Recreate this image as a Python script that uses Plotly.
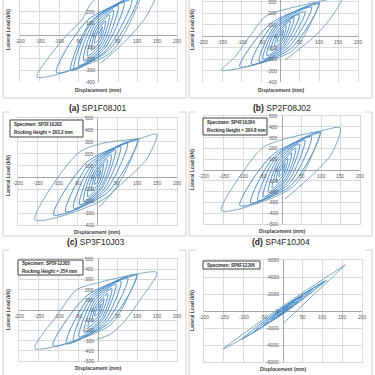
import plotly.graph_objects as go

# ---------------- data ----------------
# each panel: continuous load path (inner cycles) + last large cycle (outer)
a_in_x = [0, 10, 3, -10, -3, 18, 5, -18, -5, 28, 7, -28, -7, 38, 10, -38, -10, 50, 13, -50, -13, 65, 16, -62, -16, 85, 21, -70, -18, 100, 25, -107, -27, 110]
a_in_y = [0, 70, -28, -70, 28, 120, -48, -130, 50, 170, -68, -180, 70, 210, -84, -220, 86, 250, -100, -260, 104, 280, -112, -290, 116, 310, -124, -300, 120, 330, -132, -320, 128, 335]
a_out_x = [110, 30, -157, -107, -77, -44, -10, 100, 150, 120, 60, 5]
a_out_y = [335, -150, -357, -105, 13, 122, 300, 360, 390, 150, -80, -240]

b_in_x = [0, 8, 2, -8, -2, 15, 4, -15, -4, 25, 6, -25, -6, 35, 9, -35, -9, 48, 12, -45, -11, 63, 16, -55, -14, 80, 20, -75, -19, 98, 25, -105, -26, 102]
b_in_y = [0, 50, -20, -50, 20, 90, -36, -90, 36, 130, -52, -130, 52, 160, -64, -170, 68, 185, -74, -200, 80, 210, -84, -225, 90, 250, -100, -245, 98, 284, -114, -267, 107, 290]
b_out_x = [102, 30, -152, -118, -74, -40, 0, 100, 158, 132, 97, 45, 12]
b_out_y = [290, -130, -296, -183, 23, 168, 220, 300, 330, 168, 26, -122, -209]

c_in_x = [0, 8, 2, -8, -2, 15, 4, -15, -4, 25, 6, -25, -6, 35, 9, -35, -9, 45, 11, -45, -11, 58, 15, -60, -15, 75, 19, -80, -20, 100, 25, -110, -28, 105]
c_in_y = [0, 60, -24, -60, 24, 110, -44, -110, 44, 150, -64, -160, 60, 190, -80, -200, 76, 230, -92, -230, 92, 260, -104, -260, 104, 290, -116, -290, 116, 318, -127, -315, 126, 325]
c_out_x = [105, 30, -157, -107, -44, 10, 107, 149, 125, 90, 48, 5]
c_out_y = [325, -150, -357, -35, 217, 285, 330, 363, 160, 35, -91, -250]

d_in_x = [0, 8, 2, -8, -2, 15, 4, -15, -4, 25, 6, -25, -6, 35, 9, -35, -9, 45, 11, -48, -12, 58, 15, -62, -16, 75, 19, -80, -20, 97, 24, -108, -27, 100]
d_in_y = [0, 60, -24, -60, 24, 110, -44, -110, 44, 160, -64, -170, 68, 200, -80, -210, 84, 240, -96, -250, 100, 275, -110, -285, 114, 310, -124, -305, 122, 349, -140, -330, 132, 355]
d_out_x = [100, 30, -155, -95, -48, 7, 101, 149, 127, 76, 33, 7]
d_out_y = [355, -150, -376, 9, 210, 287, 364, 389, 148, -52, -191, -269]

e_in_x = [0, 8, 2, -8, -2, 15, 4, -15, -4, 25, 6, -25, -6, 35, 9, -35, -9, 45, 11, -48, -12, 58, 15, -62, -16, 75, 19, -80, -20, 98, 24, -114, -28, 100]
e_in_y = [0, 60, -24, -60, 24, 110, -44, -115, 46, 160, -64, -170, 68, 210, -84, -220, 88, 250, -100, -265, 106, 285, -114, -300, 120, 320, -128, -330, 132, 345, -138, -351, 140, 350]
e_out_x = [100, 30, -160, -105, -54, -3, 98, 149, 107, 64, 31, -3]
e_out_y = [350, -150, -377, -60, 199, 264, 353, 367, 102, -125, -238, -286]

f_in_x = [0, 15, 0, -15, 0, 30, 0, -30, 0, 50, 0, -50, 0, 75, 0, -75, 0, 105, 0, -105, 0, 110]
f_in_y = [0, 600, -100, -500, 150, 1100, -150, -1000, 200, 1800, -200, -1700, 250, 2600, -250, -2500, 350, 3500, -300, -3333, 450, 3600]
f_out_x = [110, 0, -152, 0, 158]
f_out_y = [3600, -350, -4476, 600, 5430]
f_tail_x = [158, 1]
f_tail_y = [5430, -1430]

x_ticks = [-200, -150, -100, -50, 50, 100, 150, 200]
y_ticks_a = [-400, -300, -200, -100, 0, 100, 200]
y_ticks_b = [-400, -300, -200, -100, 0, 100, 200, 300]
y_ticks_c = [-400, -300, -200, -100, 0, 100, 200, 300, 400, 500]
y_ticks_d = [-500, -400, -300, -200, -100, 0, 100, 200, 300, 400, 500]
y_ticks_e = [-500, -400, -300, -200, -100, 0, 100, 200, 300, 400, 500]
y_ticks_f = [-6000, -4000, -2000, 0, 2000, 4000, 6000]

captions = ["<b>(a)</b> SP1F08J01", "<b>(b)</b> SP2F08J02", "<b>(c)</b> SP3F10J03", "<b>(d)</b> SP4F10J04"]
legend_c = ["Specimen: SP3F10J03", "Rocking Height = 203.2 mm"]
legend_d = ["Specimen: SP4F10J04", "Rocking Height = 304.8 mm"]
legend_e = ["Specimen: SP5F12J05", "Rocking Height = 254 mm"]
legend_f = ["Specimen: SP6F12J06"]

# ---------------- layout helpers ----------------
S = 375.0
FONT = "Liberation Sans, Arial, sans-serif"
INNER = "#3d85c6"
OUTER = "#6aa0b8"
GRID = "#dadada"
FRAME = "#d0d0d0"

def fx(p):
    return p / S

def fy(p):
    return 1 - p / S

panels = [
    dict(x=(20, 177), y=(0, 82), yr=[-400, 298], dt=100, yt=y_ticks_a,
         data=(a_in_x, a_in_y, a_out_x, a_out_y), yt_pos=(8, 30), xt_pos=(98, 90), full=False),
    dict(x=(203, 358), y=(0, 82), yr=[-400, 313], dt=100, yt=y_ticks_b,
         data=(b_in_x, b_in_y, b_out_x, b_out_y), yt_pos=(192, 30), xt_pos=(281, 90), full=False),
    dict(x=(18, 177), y=(118, 225), yr=[-400, 500], dt=100, yt=y_ticks_c,
         data=(c_in_x, c_in_y, c_out_x, c_out_y), yt_pos=(8, 176), xt_pos=(97, 232), full=True),
    dict(x=(204, 360), y=(116, 224), yr=[-500, 500], dt=100, yt=y_ticks_d,
         data=(d_in_x, d_in_y, d_out_x, d_out_y), yt_pos=(192, 170), xt_pos=(282, 231), full=True),
    dict(x=(19, 177), y=(259, 361), yr=[-500, 500], dt=100, yt=y_ticks_e,
         data=(e_in_x, e_in_y, e_out_x, e_out_y), yt_pos=(8, 310), xt_pos=(98, 368), full=True),
    dict(x=(204, 362), y=(260, 362), yr=[-6000, 6000], dt=2000, yt=y_ticks_f,
         data=(f_in_x, f_in_y, f_out_x, f_out_y), yt_pos=(192, 311), xt_pos=(283, 369), full=True),
]

fig = go.Figure()
annotations = []
shapes = []
layout_axes = {}

for i, p in enumerate(panels):
    n = "" if i == 0 else str(i + 1)
    xa, ya = "x" + n, "y" + n
    in_x, in_y, out_x, out_y = p["data"]
    fig.add_trace(go.Scatter(x=in_x, y=in_y, mode="lines", xaxis=xa, yaxis=ya,
                             line=dict(color=INNER, width=0.9, shape="spline", smoothing=0.8),
                             showlegend=False, hoverinfo="skip"))
    fig.add_trace(go.Scatter(x=out_x, y=out_y, mode="lines", xaxis=xa, yaxis=ya,
                             line=dict(color=OUTER, width=0.9, shape="spline", smoothing=0.8),
                             showlegend=False, hoverinfo="skip"))
    if i == 5:
        fig.add_trace(go.Scatter(x=f_tail_x, y=f_tail_y, mode="lines", xaxis=xa, yaxis=ya,
                                 line=dict(color=OUTER, width=0.9), showlegend=False, hoverinfo="skip"))
    layout_axes["xaxis" + n] = dict(
        domain=[fx(p["x"][0]), fx(p["x"][1])], range=[-200, 200], dtick=50, tick0=0,
        showgrid=True, gridcolor=GRID, gridwidth=1, zeroline=True, zerolinecolor="#a6a6a6",
        zerolinewidth=1, showticklabels=False, ticks="", anchor=ya,
        showline=p["full"], mirror=p["full"], linecolor=GRID, fixedrange=True)
    layout_axes["yaxis" + n] = dict(
        domain=[fy(p["y"][1]), fy(p["y"][0])], range=p["yr"], dtick=p["dt"], tick0=0,
        showgrid=True, gridcolor=GRID, gridwidth=1, zeroline=True, zerolinecolor="#a6a6a6",
        zerolinewidth=1, showticklabels=False, ticks="", anchor=xa,
        showline=True, mirror=True, linecolor=GRID, fixedrange=True)
    for v in x_ticks:
        annotations.append(dict(x=v, y=0, xref=xa, yref=ya, text=str(v), showarrow=False,
                                yanchor="top", xanchor="center", yshift=-1,
                                font=dict(size=5, color="#595959", family=FONT)))
    for v in p["yt"]:
        annotations.append(dict(x=0, y=v, xref=xa, yref=ya, text=str(v), showarrow=False,
                                yanchor="middle", xanchor="right", xshift=-2,
                                font=dict(size=5, color="#595959", family=FONT)))
    annotations.append(dict(x=fx(p["yt_pos"][0]), y=fy(p["yt_pos"][1]), xref="paper", yref="paper",
                            text="<b>Lateral Load (kN)</b>", textangle=-90, showarrow=False,
                            xanchor="center", yanchor="middle",
                            font=dict(size=5, color="#404040", family=FONT)))
    annotations.append(dict(x=fx(p["xt_pos"][0]), y=fy(p["xt_pos"][1]), xref="paper", yref="paper",
                            text="<b>Displacement (mm)</b>", showarrow=False,
                            xanchor="center", yanchor="middle", borderpad=0,
                            font=dict(size=5, color="#404040", family=FONT)))

def hline(x0, x1, y):
    shapes.append(dict(type="line", xref="paper", yref="paper", x0=fx(x0), x1=fx(x1),
                       y0=fy(y), y1=fy(y), line=dict(color=FRAME, width=1)))

def vline(x, y0, y1):
    shapes.append(dict(type="line", xref="paper", yref="paper", x0=fx(x), x1=fx(x),
                       y0=fy(y0), y1=fy(y1), line=dict(color=FRAME, width=1)))

for (c0, c1) in [(3, 186), (189, 372)]:
    hline(c0, c1, 98)
    hline(c0, c1, 236)
    for yy in (112, 250):
        hline(c0, c0 + 7, yy)
        hline(c1 - 7, c1, yy)
    for xx in (c0, c1):
        vline(xx, 0, 98)
        vline(xx, 112, 236)
        vline(xx, 250, 375)

for txt, (cx, cy) in zip(captions, [(97, 108), (282, 108), (95, 242), (281, 242)]):
    annotations.append(dict(x=fx(cx), y=fy(cy), xref="paper", yref="paper", text=txt,
                            showarrow=False, xanchor="center", yanchor="middle",
                            font=dict(size=8.5, color="#262626", family=FONT)))

def legend_box(lines, x0, y0, x1, y1):
    shapes.append(dict(type="rect", xref="paper", yref="paper", x0=fx(x0), x1=fx(x1),
                       y0=fy(y1), y1=fy(y0), line=dict(color="#404040", width=1),
                       fillcolor="white", layer="above"))
    n = len(lines)
    for k, t in enumerate(lines):
        yy = y0 + (y1 - y0) * (k + 0.5) / n
        annotations.append(dict(x=fx(x0 + 2.5), y=fy(yy), xref="paper", yref="paper",
                                text="<b>" + t + "</b>", showarrow=False, xanchor="left",
                                yanchor="middle", borderpad=0,
                                font=dict(size=4.5, color="#262626", family=FONT)))

legend_box(legend_c, 10, 120, 83, 137)
legend_box(legend_d, 203, 118, 267, 135)
legend_box(legend_e, 18, 260, 83, 275)
legend_box(legend_f, 203, 261, 260, 269)

fig.update_layout(
    width=375, height=375, margin=dict(l=0, r=0, t=0, b=0),
    paper_bgcolor="white", plot_bgcolor="white", showlegend=False,
    annotations=annotations, shapes=shapes, font=dict(family=FONT), **layout_axes)

fig.write_html("out.html", config={"displayModeBar": False},
               post_script="document.body.style.margin='0';document.body.style.padding='0';")
